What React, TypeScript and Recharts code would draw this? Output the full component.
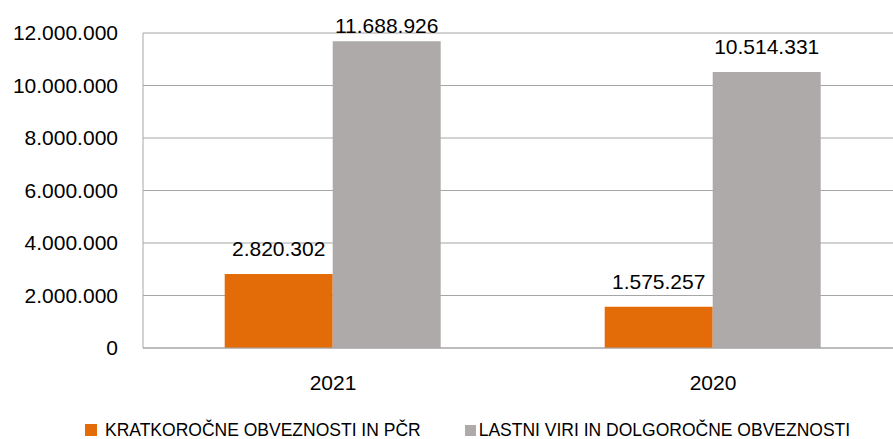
import { BarChart, Bar, XAxis, YAxis, CartesianGrid, Legend, LabelList } from 'recharts';

const years = ['2021', '2020'];
const kratkorocne = [2820302, 1575257];
const lastniViri = [11688926, 10514331];
const yTicks = [0, 2000000, 4000000, 6000000, 8000000, 10000000, 12000000];

const seriesNames = ['KRATKOROČNE OBVEZNOSTI IN PČR', 'LASTNI VIRI IN DOLGOROČNE OBVEZNOSTI'];
const colors = ['#E36C09', '#AEAAAA'];

const data = years.map((year, i) => ({
  year,
  kratkorocne: kratkorocne[i],
  lastniViri: lastniViri[i],
}));

const FONT = '"Liberation Sans", Arial, sans-serif';
const PLOT_TOP = 33;

// dots as thousands separator
const fmt = (v: number) => String(Math.round(v)).replace(/\B(?=(\d{3})+(?!\d))/g, '.');

function BarValueLabel(props: any) {
  const { x, y, width, value } = props;
  // keep label inside the chart like Excel does
  const baseline = Math.max(Number(y) - 17.5, PLOT_TOP);
  return (
    <text
      x={Number(x) + Number(width) / 2}
      y={baseline}
      textAnchor="middle"
      fontSize={21}
      fontFamily={FONT}
      fill="#000"
    >
      {fmt(Number(value))}
    </text>
  );
}

function ChartLegend() {
  return (
    <div
      style={{
        display: 'flex',
        alignItems: 'center',
        height: 30,
        paddingTop: 12,
        paddingLeft: 85,
        boxSizing: 'border-box',
        fontFamily: FONT,
        fontSize: 17.5,
        lineHeight: '18px',
        color: '#000',
        whiteSpace: 'nowrap',
      }}
    >
      <span style={{ width: 12, height: 12, background: colors[0], marginRight: 8 }} />
      <span>{seriesNames[0]}</span>
      <span style={{ width: 11, height: 11, background: colors[1], marginLeft: 44, marginRight: 3 }} />
      <span>{seriesNames[1]}</span>
    </div>
  );
}

export default function App() {
  return (
    <div
      style={{
        position: 'absolute',
        left: 0,
        top: 0,
        width: 893,
        height: 439,
        overflow: 'hidden',
        background: '#fff',
      }}
    >
      <BarChart
        width={905}
        height={439}
        data={data}
        margin={{ top: PLOT_TOP, right: 2, left: 0, bottom: 0 }}
        barCategoryGap="21.5%"
        barGap={0}
      >
        <CartesianGrid vertical={false} stroke="#A6A6A6" />
        <XAxis
          dataKey="year"
          height={61}
          stroke="#A6A6A6"
          tickLine={false}
          tickSize={0}
          tickMargin={27}
          tick={{ fill: '#000', fontSize: 21, fontFamily: FONT }}
        />
        <YAxis
          width={143}
          domain={[0, 12000000]}
          ticks={yTicks}
          interval={0}
          stroke="#A6A6A6"
          tickLine={false}
          tickSize={0}
          tickMargin={25}
          tickFormatter={fmt}
          tick={{ fill: '#000', fontSize: 21, fontFamily: FONT }}
        />
        <Legend
          verticalAlign="bottom"
          height={30}
          content={() => <ChartLegend />}
          wrapperStyle={{ left: 0, width: 893, bottom: 0 }}
        />
        <Bar dataKey="kratkorocne" name={seriesNames[0]} fill={colors[0]} isAnimationActive={false}>
          <LabelList dataKey="kratkorocne" content={BarValueLabel} />
        </Bar>
        <Bar dataKey="lastniViri" name={seriesNames[1]} fill={colors[1]} isAnimationActive={false}>
          <LabelList dataKey="lastniViri" content={BarValueLabel} />
        </Bar>
      </BarChart>
    </div>
  );
}
